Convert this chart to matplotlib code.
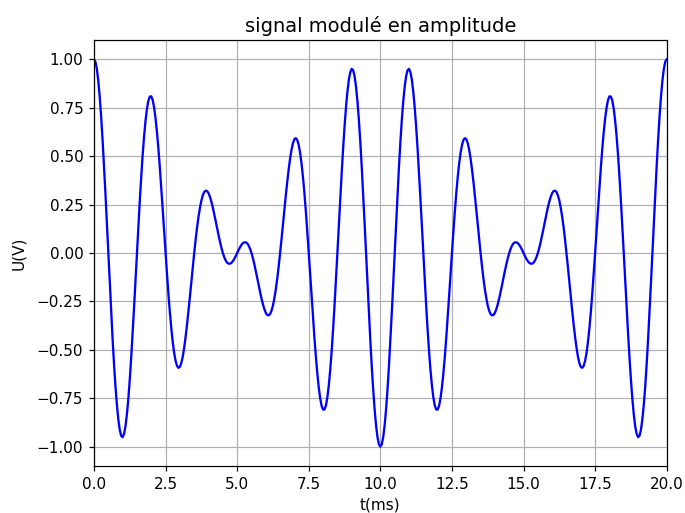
import numpy as np
import matplotlib
matplotlib.use("Agg")
import matplotlib.pyplot as plt

# sample times (ms), one point every 0.05 ms
t = np.linspace(0.0, 20.0, 401)

# signal values (V)
u = [
    1.000, 0.988, 0.951, 0.890, 0.807, 0.705, 0.585, 0.451, 0.307, 0.155,
    0.000, -0.154, -0.304, -0.445, -0.574, -0.688, -0.784, -0.859, -0.913, -0.944,
    -0.951, -0.934, -0.895, -0.833, -0.752, -0.653, -0.539, -0.414, -0.280, -0.140,
    0.000, 0.138, 0.271, 0.394, 0.506, 0.603, 0.683, 0.745, 0.787, 0.808,
    0.809, 0.790, 0.751, 0.695, 0.623, 0.538, 0.441, 0.336, 0.225, 0.112,
    0.000, -0.109, -0.212, -0.306, -0.389, -0.459, -0.516, -0.557, -0.583, -0.593,
    -0.588, -0.568, -0.535, -0.489, -0.433, -0.369, -0.299, -0.225, -0.149, -0.073,
    0.000, 0.069, 0.132, 0.187, 0.233, 0.271, 0.298, 0.315, 0.322, 0.320,
    0.309, 0.290, 0.265, 0.235, 0.201, 0.165, 0.128, 0.092, 0.058, 0.027,
    0.000, -0.022, -0.039, -0.050, -0.055, -0.055, -0.051, -0.042, -0.030, -0.016,
    0.000, 0.016, 0.030, 0.042, 0.051, 0.055, 0.055, 0.050, 0.039, 0.022,
    0.000, -0.027, -0.058, -0.092, -0.128, -0.165, -0.201, -0.235, -0.265, -0.290,
    -0.309, -0.320, -0.322, -0.315, -0.298, -0.271, -0.233, -0.187, -0.132, -0.069,
    0.000, 0.073, 0.149, 0.225, 0.299, 0.369, 0.433, 0.489, 0.535, 0.568,
    0.588, 0.593, 0.583, 0.557, 0.516, 0.459, 0.389, 0.306, 0.212, 0.109,
    0.000, -0.112, -0.225, -0.336, -0.441, -0.538, -0.623, -0.695, -0.751, -0.790,
    -0.809, -0.808, -0.787, -0.745, -0.683, -0.603, -0.506, -0.394, -0.271, -0.138,
    0.000, 0.140, 0.280, 0.414, 0.539, 0.653, 0.752, 0.833, 0.895, 0.934,
    0.951, 0.944, 0.913, 0.859, 0.784, 0.688, 0.574, 0.445, 0.304, 0.154,
    0.000, -0.155, -0.307, -0.451, -0.585, -0.705, -0.807, -0.890, -0.951, -0.988,
    -1.000,
    -0.988, -0.951, -0.890, -0.807, -0.705, -0.585, -0.451, -0.307, -0.155, 0.000,
    0.154, 0.304, 0.445, 0.574, 0.688, 0.784, 0.859, 0.913, 0.944, 0.951,
    0.934, 0.895, 0.833, 0.752, 0.653, 0.539, 0.414, 0.280, 0.140, 0.000,
    -0.138, -0.271, -0.394, -0.506, -0.603, -0.683, -0.745, -0.787, -0.808, -0.809,
    -0.790, -0.751, -0.695, -0.623, -0.538, -0.441, -0.336, -0.225, -0.112, 0.000,
    0.109, 0.212, 0.306, 0.389, 0.459, 0.516, 0.557, 0.583, 0.593, 0.588,
    0.568, 0.535, 0.489, 0.433, 0.369, 0.299, 0.225, 0.149, 0.073, 0.000,
    -0.069, -0.132, -0.187, -0.233, -0.271, -0.298, -0.315, -0.322, -0.320, -0.309,
    -0.290, -0.265, -0.235, -0.201, -0.165, -0.128, -0.092, -0.058, -0.027, 0.000,
    0.022, 0.039, 0.050, 0.055, 0.055, 0.051, 0.042, 0.030, 0.016, 0.000,
    -0.016, -0.030, -0.042, -0.051, -0.055, -0.055, -0.050, -0.039, -0.022, 0.000,
    0.027, 0.058, 0.092, 0.128, 0.165, 0.201, 0.235, 0.265, 0.290, 0.309,
    0.320, 0.322, 0.315, 0.298, 0.271, 0.233, 0.187, 0.132, 0.069, 0.000,
    -0.073, -0.149, -0.225, -0.299, -0.369, -0.433, -0.489, -0.535, -0.568, -0.588,
    -0.593, -0.583, -0.557, -0.516, -0.459, -0.389, -0.306, -0.212, -0.109, 0.000,
    0.112, 0.225, 0.336, 0.441, 0.538, 0.623, 0.695, 0.751, 0.790, 0.809,
    0.808, 0.787, 0.745, 0.683, 0.603, 0.506, 0.394, 0.271, 0.138, 0.000,
    -0.140, -0.280, -0.414, -0.539, -0.653, -0.752, -0.833, -0.895, -0.934, -0.951,
    -0.944, -0.913, -0.859, -0.784, -0.688, -0.574, -0.445, -0.304, -0.154, 0.000,
    0.155, 0.307, 0.451, 0.585, 0.705, 0.807, 0.890, 0.951, 0.988, 1.000,
]

DPI = 110
fig, ax = plt.subplots(figsize=(685 / DPI, 513 / DPI), dpi=DPI)
fig.subplots_adjust(left=0.1372, right=0.9733, top=0.922, bottom=0.0916)

ax.plot(t, u, color="blue", lw=1.5)
ax.set_xlim(0, 20)
ax.grid(True)
ax.set_title("signal modulé en amplitude", fontsize=12.7, pad=5)
ax.set_xlabel("t(ms)", labelpad=3.5)
ax.set_ylabel("U(V)", labelpad=7)

fig.savefig("out.png", dpi=DPI)
plt.close(fig)
